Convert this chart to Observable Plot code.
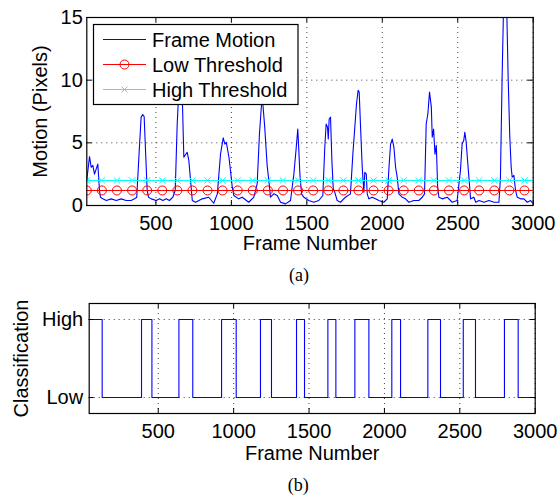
<!DOCTYPE html>
<html><head><meta charset="utf-8">
<script src="https://cdn.jsdelivr.net/npm/d3@7"></script>
<script src="https://cdn.jsdelivr.net/npm/@observablehq/plot@0.6"></script>
<style>
html,body{margin:0;padding:0;background:#fff;}
#chart{position:relative;width:558px;height:497px;overflow:hidden;}
#chart svg{display:block;}
</style></head><body><div id="chart"></div>
<script>
// ---- Data ----
const motionFrames = [42,60,71,82,93,104,115,126,133,148,171,204,237,270,303,336,358,373,387,402,413,422,433,442,451,469,502,524,546,568,590,612,628,641,653,663,674,685,707,718,741,763,807,850,883,907,928,946,957,966,984,994,1006,1016,1049,1072,1115,1149,1171,1186,1204,1221,1237,1253,1259,1281,1304,1326,1359,1392,1414,1430,1440,1447,1454,1465,1480,1513,1546,1579,1606,1619,1628,1637,1642,1648,1657,1666,1675,1685,1701,1723,1756,1789,1805,1818,1829,1840,1847,1856,1867,1878,1884,1894,1900,1911,1933,1955,1977,2010,2033,2043,2055,2066,2077,2088,2099,2110,2132,2154,2176,2209,2242,2265,2280,2291,2302,2313,2325,2331,2340,2349,2358,2367,2375,2398,2430,2463,2496,2518,2529,2540,2547,2556,2565,2574,2585,2607,2619,2641,2674,2707,2740,2773,2783,2794,2803,2813,2825,2834,2845,2854,2861,2872,2883,2894,2916,2938,2961,2983,3000];
const motionValues = [2.05,3.9,3.05,3.2,2.5,2.9,3.3,1.2,0.66,0.53,0.4,0.53,0.4,0.53,0.4,0.4,0.53,0.66,3.85,7.05,7.25,7.1,3.85,1.2,0.66,0.53,0.4,0.53,0.4,0.53,0.4,0.66,1.2,6.5,9.5,10.5,9,3.85,4.25,3.6,0.4,0.26,0.53,0.66,0.18,0.93,4.1,5.4,4.9,5.05,3.85,2.8,1.46,0.8,0.53,0.66,0.26,0.66,1.73,5.7,8.8,6.25,3.2,1.46,0.66,0.93,0.8,0.26,0.13,0.4,2.5,4.65,6.1,4.4,2.5,0.93,0.66,0.4,0.26,0.4,0.8,4.65,6.5,6.25,5.3,6.9,7.05,3.6,1.33,1.06,0.4,0.26,0.66,0.93,4.1,6.25,8.1,9.2,9.05,6.25,3.05,1.06,2.65,2.5,0.93,0.53,0.66,0.53,0.4,0.26,0.53,2.8,4.9,5.3,4.65,3.05,2.25,0.93,0.66,0.53,0.26,0.4,0.4,0.66,0.93,6.5,7.3,9.05,7.85,5.45,6.1,4.1,4.8,1.46,0.66,0.53,0.66,0.26,0.4,2.8,4.9,5.2,5.85,5.05,3.6,2.25,0.53,0.66,0.26,0.4,0.26,0.4,0.26,0.26,2.25,10.2,15.5,16.5,15.5,10.2,5.45,3.05,2.25,2.4,1.2,0.66,0.53,0.53,0.26,0.4,0.13];
const markerFrames = [42,142,242,342,442,542,642,742,842,942,1042,1142,1242,1342,1442,1542,1642,1742,1842,1942,2042,2142,2242,2342,2442,2542,2642,2742,2842,2942];
const lowThreshold = 1.2;
const highThreshold = 2.0;
const seriesNames = ["Frame Motion", "Low Threshold", "High Threshold"];
const xTicks = [500,1000,1500,2000,2500,3000];
const yTicks = [0,5,10,15];
const classFrames = [42,128,389,458,637,729,920,1017,1178,1251,1417,1470,1625,1678,1804,1897,2049,2107,2288,2372,2523,2604,2796,2887,3000];
const classLevels = ["High","Low","High","Low","High","Low","High","Low","High","Low","High","Low","High","Low","High","Low","High","Low","High","Low","High","Low","High","Low","Low"];
const classTicks = ["High","Low"];

// ---- Build ----
const motion = motionFrames.map((f,i)=>({frame:f, value:motionValues[i]}));
const cls = classFrames.map((f,i)=>({frame:f, level:classLevels[i]}));
const FONT = "'Liberation Sans', Arial, Helvetica, sans-serif";
const SERIF = "'Liberation Serif', 'Times New Roman', serif";
const grid = {stroke:"#000", strokeOpacity:0.75, strokeDasharray:"1,4"};
const fmt = d => String(d);
const label = {textAnchor: "middle", lineAnchor: "middle", fill: "#000"};

const topPlot = Plot.plot({
  width: 558, height: 285,
  marginLeft: 86.3, marginRight: 25.3, marginTop: 17, marginBottom: 80,
  style: {fontFamily: FONT, fontSize: "20px", color: "#000", background: "#fff"},
  x: {domain: [42,3000], ticks: xTicks, tickFormat: fmt, tickSize: 0, tickPadding: 10, label: null},
  y: {domain: [0,15], ticks: yTicks, tickFormat: fmt, tickSize: 0, tickPadding: 4, label: null},
  marks: [
    Plot.ruleX(xTicks, {x: d=>d, ...grid}),
    Plot.ruleY(yTicks, {y: d=>d, ...grid}),
    Plot.line(motion, {x: "frame", y: "value", stroke: "blue", strokeWidth: 1.1, clip: true}),
    Plot.ruleY([lowThreshold], {y: d=>d, stroke: "red", strokeWidth: 1.1}),
    Plot.dot(markerFrames, {x: d=>d, y: () => lowThreshold, r: 4.5, stroke: "red", fill: "none", strokeWidth: 1, clip: true}),
    Plot.ruleY([highThreshold], {y: d=>d, stroke: "cyan", strokeWidth: 1.1}),
    Plot.dot(markerFrames, {x: d=>d, y: () => highThreshold, symbol: "times", r: 3, stroke: "cyan", strokeWidth: 1, clip: true}),
    Plot.ruleX(xTicks, {x: d=>d, insetTop: 183, stroke: "#000"}),
    Plot.ruleX(xTicks, {x: d=>d, insetBottom: 183, stroke: "#000"}),
    Plot.ruleY(yTicks, {y: d=>d, insetRight: 441, stroke: "#000"}),
    Plot.ruleY(yTicks, {y: d=>d, insetLeft: 441, stroke: "#000"}),
    Plot.frame({stroke: "#000", strokeWidth: 1.2}),
    Plot.text(["Motion (Pixels)"], {text: d=>d, frameAnchor: "left", rotate: -90, dx: -46, fontSize: 20, ...label}),
    Plot.text(["Frame Number"], {text: d=>d, frameAnchor: "bottom", dy: 38, fontSize: 20, ...label}),
    Plot.text(["(a)"], {text: d=>d, frameAnchor: "bottom", dy: 70, dx: -11, fontSize: 18, fontFamily: SERIF, ...label})
  ]
});

// Legend
{
  const svg = d3.select(topPlot);
  const g = svg.append("g").attr("font-family", FONT).attr("font-size", 20).attr("text-anchor", "start");
  g.append("rect").attr("x", 93.5).attr("y", 24.5).attr("width", 204.5).attr("height", 80)
    .attr("fill", "#fff").attr("stroke", "#000").attr("stroke-width", 1.2);
  const colors = ["blue", "red", "cyan"];
  seriesNames.forEach((name, i) => {
    const y = 39.5 + i * 25;
    g.append("line").attr("x1", 103).attr("x2", 146).attr("y1", y).attr("y2", y)
      .attr("stroke", colors[i]).attr("stroke-width", 1.1);
    if (i === 1) {
      g.append("circle").attr("cx", 124.5).attr("cy", y).attr("r", 4.5)
        .attr("fill", "none").attr("stroke", "red");
    } else if (i === 2) {
      g.append("path").attr("d", `M${124.5-3},${y-3}L${124.5+3},${y+3}M${124.5-3},${y+3}L${124.5+3},${y-3}`)
        .attr("stroke", "cyan").attr("fill", "none");
    }
    g.append("text").attr("x", 152).attr("y", y).attr("dy", "0.35em")
      .attr("text-anchor", "start").attr("fill", "#000").text(name);
  });
}

const bottomPlot = Plot.plot({
  width: 558, height: 212,
  marginLeft: 88.7, marginRight: 23.3, marginTop: 18, marginBottom: 84,
  style: {fontFamily: FONT, fontSize: "20px", color: "#000", background: "#fff"},
  x: {domain: [42,3000], ticks: xTicks, tickFormat: fmt, tickSize: 0, tickPadding: 10, label: null},
  y: {type: "point", domain: classTicks, padding: 0.205, tickSize: 0, tickPadding: 6, label: null},
  marks: [
    Plot.ruleX(xTicks, {x: d=>d, ...grid}),
    Plot.ruleY(classTicks, {y: d=>d, ...grid}),
    Plot.line(cls, {x: "frame", y: "level", curve: "step-after", stroke: "blue", strokeWidth: 1.1}),
    Plot.ruleX(xTicks, {x: d=>d, insetTop: 105, stroke: "#000"}),
    Plot.ruleX(xTicks, {x: d=>d, insetBottom: 105, stroke: "#000"}),
    Plot.ruleY(classTicks, {y: d=>d, insetRight: 441, stroke: "#000"}),
    Plot.ruleY(classTicks, {y: d=>d, insetLeft: 441, stroke: "#000"}),
    Plot.frame({stroke: "#000", strokeWidth: 1.2}),
    Plot.text(["Classification"], {text: d=>d, frameAnchor: "left", rotate: -90, dx: -68, fontSize: 20, ...label}),
    Plot.text(["Frame Number"], {text: d=>d, frameAnchor: "bottom", dy: 40, fontSize: 20, ...label}),
    Plot.text(["(b)"], {text: d=>d, frameAnchor: "bottom", dy: 72, dx: -14, fontSize: 18, fontFamily: SERIF, ...label})
  ]
});

const chart = document.getElementById("chart");
chart.appendChild(topPlot);
chart.appendChild(bottomPlot);
</script>
</body></html>
